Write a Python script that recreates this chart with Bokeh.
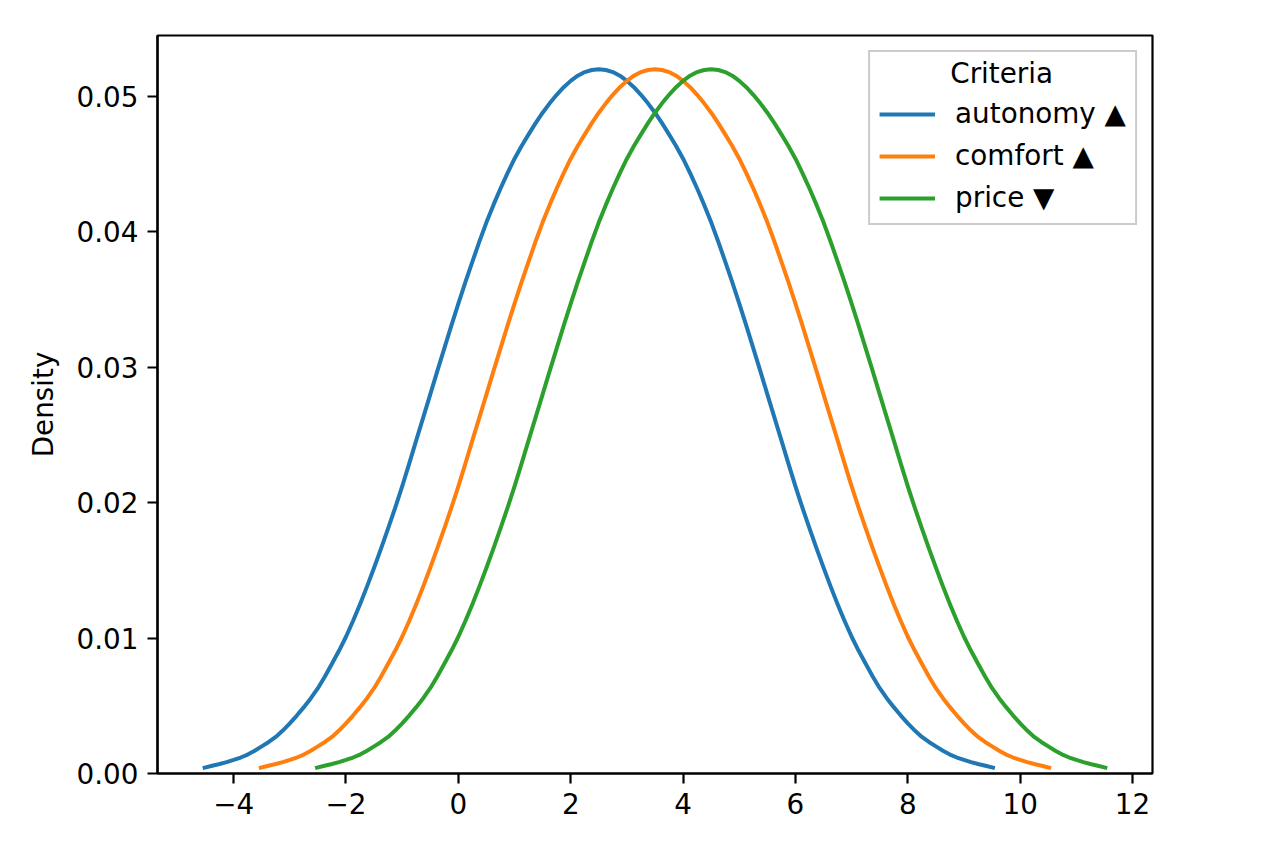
from bokeh.plotting import figure
from bokeh.models import Range1d, FixedTicker, NumeralTickFormatter, Legend, LegendItem, Label
from bokeh.embed import file_html
from bokeh.resources import INLINE

# ---- data (KDE curves, one per criterion) ----
criteria = ["autonomy ▲", "comfort ▲", "price ▼"]
colors = ["#1f77b4", "#ff7f0e", "#2ca02c"]

autonomy_x = [
    -4.55, -4.4, -4.25, -4.125, -4.0, -3.875, -3.75, -3.625, -3.5, -3.375, -3.25, -3.125,
    -3.0, -2.875, -2.75, -2.625, -2.5, -2.375, -2.25, -2.125, -2.0, -1.875, -1.75, -1.625,
    -1.5, -1.375, -1.25, -1.125, -1.0, -0.875, -0.75, -0.625, -0.5, -0.375, -0.25, -0.125,
    0.0, 0.125, 0.25, 0.375, 0.5, 0.625, 0.75, 0.875, 1.0, 1.125, 1.25, 1.375,
    1.5, 1.625, 1.75, 1.875, 2.0, 2.125, 2.25, 2.375, 2.5,
    2.625, 2.75, 2.875, 3.0, 3.125, 3.25, 3.375, 3.5, 3.625, 3.75, 3.875, 4.0,
    4.125, 4.25, 4.375, 4.5, 4.625, 4.75, 4.875, 5.0, 5.125, 5.25, 5.375, 5.5,
    5.625, 5.75, 5.875, 6.0, 6.125, 6.25, 6.375, 6.5, 6.625, 6.75, 6.875, 7.0,
    7.125, 7.25, 7.375, 7.5, 7.625, 7.75, 7.875, 8.0, 8.125, 8.25, 8.375, 8.5,
    8.625, 8.75, 8.875, 9.0, 9.125, 9.25, 9.4, 9.55]
autonomy_density = [
    0.00040, 0.00055, 0.00070, 0.00084, 0.00100, 0.00118, 0.00140, 0.00168, 0.00200, 0.00233,
    0.00270, 0.00317, 0.00370, 0.00428, 0.00490, 0.00556, 0.00630, 0.00716, 0.00810, 0.00906,
    0.01010, 0.01126, 0.01250, 0.01382, 0.01520, 0.01663, 0.01810, 0.01962, 0.02120, 0.02288,
    0.02460, 0.02630, 0.02800, 0.02971, 0.03140, 0.03307, 0.03470, 0.03628, 0.03780, 0.03929,
    0.04070, 0.04199, 0.04320, 0.04434, 0.04540, 0.04634, 0.04720, 0.04803, 0.04880, 0.04949,
    0.05012, 0.05068, 0.05115, 0.05153, 0.05180, 0.05195, 0.05200,
    0.05195, 0.05180, 0.05153, 0.05115, 0.05068, 0.05012, 0.04949, 0.04880, 0.04803, 0.04720,
    0.04634, 0.04540, 0.04434, 0.04320, 0.04199, 0.04070, 0.03929, 0.03780, 0.03628, 0.03470,
    0.03307, 0.03140, 0.02971, 0.02800, 0.02630, 0.02460, 0.02288, 0.02120, 0.01962, 0.01810,
    0.01663, 0.01520, 0.01382, 0.01250, 0.01126, 0.01010, 0.00906, 0.00810, 0.00716, 0.00630,
    0.00556, 0.00490, 0.00428, 0.00370, 0.00317, 0.00270, 0.00233, 0.00200, 0.00168, 0.00140,
    0.00118, 0.00100, 0.00084, 0.00070, 0.00055, 0.00040]

comfort_x = [
    -3.55, -3.4, -3.25, -3.125, -3.0, -2.875, -2.75, -2.625, -2.5, -2.375, -2.25, -2.125,
    -2.0, -1.875, -1.75, -1.625, -1.5, -1.375, -1.25, -1.125, -1.0, -0.875, -0.75, -0.625,
    -0.5, -0.375, -0.25, -0.125, 0.0, 0.125, 0.25, 0.375, 0.5, 0.625, 0.75, 0.875,
    1.0, 1.125, 1.25, 1.375, 1.5, 1.625, 1.75, 1.875, 2.0, 2.125, 2.25, 2.375,
    2.5, 2.625, 2.75, 2.875, 3.0, 3.125, 3.25, 3.375, 3.5,
    3.625, 3.75, 3.875, 4.0, 4.125, 4.25, 4.375, 4.5, 4.625, 4.75, 4.875, 5.0,
    5.125, 5.25, 5.375, 5.5, 5.625, 5.75, 5.875, 6.0, 6.125, 6.25, 6.375, 6.5,
    6.625, 6.75, 6.875, 7.0, 7.125, 7.25, 7.375, 7.5, 7.625, 7.75, 7.875, 8.0,
    8.125, 8.25, 8.375, 8.5, 8.625, 8.75, 8.875, 9.0, 9.125, 9.25, 9.375, 9.5,
    9.625, 9.75, 9.875, 10.0, 10.125, 10.25, 10.4, 10.55]
comfort_density = [
    0.00040, 0.00055, 0.00070, 0.00084, 0.00100, 0.00118, 0.00140, 0.00168, 0.00200, 0.00233,
    0.00270, 0.00317, 0.00370, 0.00428, 0.00490, 0.00556, 0.00630, 0.00716, 0.00810, 0.00906,
    0.01010, 0.01126, 0.01250, 0.01382, 0.01520, 0.01663, 0.01810, 0.01962, 0.02120, 0.02288,
    0.02460, 0.02630, 0.02800, 0.02971, 0.03140, 0.03307, 0.03470, 0.03628, 0.03780, 0.03929,
    0.04070, 0.04199, 0.04320, 0.04434, 0.04540, 0.04634, 0.04720, 0.04803, 0.04880, 0.04949,
    0.05012, 0.05068, 0.05115, 0.05153, 0.05180, 0.05195, 0.05200,
    0.05195, 0.05180, 0.05153, 0.05115, 0.05068, 0.05012, 0.04949, 0.04880, 0.04803, 0.04720,
    0.04634, 0.04540, 0.04434, 0.04320, 0.04199, 0.04070, 0.03929, 0.03780, 0.03628, 0.03470,
    0.03307, 0.03140, 0.02971, 0.02800, 0.02630, 0.02460, 0.02288, 0.02120, 0.01962, 0.01810,
    0.01663, 0.01520, 0.01382, 0.01250, 0.01126, 0.01010, 0.00906, 0.00810, 0.00716, 0.00630,
    0.00556, 0.00490, 0.00428, 0.00370, 0.00317, 0.00270, 0.00233, 0.00200, 0.00168, 0.00140,
    0.00118, 0.00100, 0.00084, 0.00070, 0.00055, 0.00040]

price_x = [
    -2.55, -2.4, -2.25, -2.125, -2.0, -1.875, -1.75, -1.625, -1.5, -1.375, -1.25, -1.125,
    -1.0, -0.875, -0.75, -0.625, -0.5, -0.375, -0.25, -0.125, 0.0, 0.125, 0.25, 0.375,
    0.5, 0.625, 0.75, 0.875, 1.0, 1.125, 1.25, 1.375, 1.5, 1.625, 1.75, 1.875,
    2.0, 2.125, 2.25, 2.375, 2.5, 2.625, 2.75, 2.875, 3.0, 3.125, 3.25, 3.375,
    3.5, 3.625, 3.75, 3.875, 4.0, 4.125, 4.25, 4.375, 4.5,
    4.625, 4.75, 4.875, 5.0, 5.125, 5.25, 5.375, 5.5, 5.625, 5.75, 5.875, 6.0,
    6.125, 6.25, 6.375, 6.5, 6.625, 6.75, 6.875, 7.0, 7.125, 7.25, 7.375, 7.5,
    7.625, 7.75, 7.875, 8.0, 8.125, 8.25, 8.375, 8.5, 8.625, 8.75, 8.875, 9.0,
    9.125, 9.25, 9.375, 9.5, 9.625, 9.75, 9.875, 10.0, 10.125, 10.25, 10.375, 10.5,
    10.625, 10.75, 10.875, 11.0, 11.125, 11.25, 11.4, 11.55]
price_density = [
    0.00040, 0.00055, 0.00070, 0.00084, 0.00100, 0.00118, 0.00140, 0.00168, 0.00200, 0.00233,
    0.00270, 0.00317, 0.00370, 0.00428, 0.00490, 0.00556, 0.00630, 0.00716, 0.00810, 0.00906,
    0.01010, 0.01126, 0.01250, 0.01382, 0.01520, 0.01663, 0.01810, 0.01962, 0.02120, 0.02288,
    0.02460, 0.02630, 0.02800, 0.02971, 0.03140, 0.03307, 0.03470, 0.03628, 0.03780, 0.03929,
    0.04070, 0.04199, 0.04320, 0.04434, 0.04540, 0.04634, 0.04720, 0.04803, 0.04880, 0.04949,
    0.05012, 0.05068, 0.05115, 0.05153, 0.05180, 0.05195, 0.05200,
    0.05195, 0.05180, 0.05153, 0.05115, 0.05068, 0.05012, 0.04949, 0.04880, 0.04803, 0.04720,
    0.04634, 0.04540, 0.04434, 0.04320, 0.04199, 0.04070, 0.03929, 0.03780, 0.03628, 0.03470,
    0.03307, 0.03140, 0.02971, 0.02800, 0.02630, 0.02460, 0.02288, 0.02120, 0.01962, 0.01810,
    0.01663, 0.01520, 0.01382, 0.01250, 0.01126, 0.01010, 0.00906, 0.00810, 0.00716, 0.00630,
    0.00556, 0.00490, 0.00428, 0.00370, 0.00317, 0.00270, 0.00233, 0.00200, 0.00168, 0.00140,
    0.00118, 0.00100, 0.00084, 0.00070, 0.00055, 0.00040]

x_ticks = [-4, -2, 0, 2, 4, 6, 8, 10, 12]
y_ticks = [0.0, 0.01, 0.02, 0.03, 0.04, 0.05]
y_label = "Density"
legend_title = "Criteria"

FONT = "DejaVu Sans"
FS = "27.8px"

p = figure(frame_width=995, frame_height=738,
           min_border_left=157, min_border_right=110, min_border_top=35, min_border_bottom=60,
           x_range=Range1d(-5.355, 12.355), y_range=Range1d(0, 0.0545),
           output_backend="svg", toolbar_location=None)
p.grid.visible = False
p.background_fill_color = "white"
p.border_fill_color = "white"
p.outline_line_color = "black"
p.outline_line_width = 2.2
p.outline_line_alpha = 1.0

series = [(autonomy_x, autonomy_density), (comfort_x, comfort_density), (price_x, price_density)]
renderers = []
for (xs, ys), c in zip(series, colors):
    r = p.line(xs, ys, line_color=c, line_width=4.0, line_join="round")
    renderers.append(r)

# axes
p.xaxis.ticker = FixedTicker(ticks=x_ticks)
p.xaxis.major_label_overrides = {t: (("\u2212" + str(abs(t))) if t < 0 else str(t)) for t in x_ticks}
p.yaxis.ticker = FixedTicker(ticks=y_ticks)
p.yaxis.formatter = NumeralTickFormatter(format="0.00")
p.yaxis.axis_label = y_label
for ax in (p.xaxis, p.yaxis):
    ax.axis_line_width = 2.2
    ax.axis_line_color = "black"
    ax.major_tick_line_width = 2.2
    ax.major_tick_line_color = "black"
    ax.major_tick_out = 10
    ax.major_tick_in = 0
    ax.minor_tick_line_color = None
    ax.major_label_text_font = FONT
    ax.major_label_text_font_size = FS
    ax.major_label_text_color = "black"
    ax.major_label_standoff = 9
    ax.axis_label_text_font = FONT
    ax.axis_label_text_font_size = FS
    ax.axis_label_text_font_style = "normal"
    ax.axis_label_text_color = "black"
    ax.axis_label_standoff = 14

# legend (transparent fill: it does not overlap any curve)
items = [LegendItem(label=lab, renderers=[r]) for lab, r in zip(criteria, renderers)]
legend = Legend(items=items, location="top_right", margin=15,
                title=" ", title_text_font=FONT, title_text_font_size=FS, title_standoff=3,
                label_text_font=FONT, label_text_font_size=FS, label_text_color="black",
                glyph_width=56, glyph_height=28, label_standoff=20, label_height=28,
                spacing=9, padding=9,
                border_line_color="#cccccc", border_line_width=2, border_line_alpha=1.0,
                background_fill_color="white", background_fill_alpha=0.0)
p.add_layout(legend)

title_label = Label(x=9.67, y=0.05169, text=legend_title,
                    text_font=FONT, text_font_size=FS, text_color="black",
                    text_align="center", text_baseline="middle")
p.add_layout(title_label)

open("out.html", "w").write(file_html(p, INLINE))
